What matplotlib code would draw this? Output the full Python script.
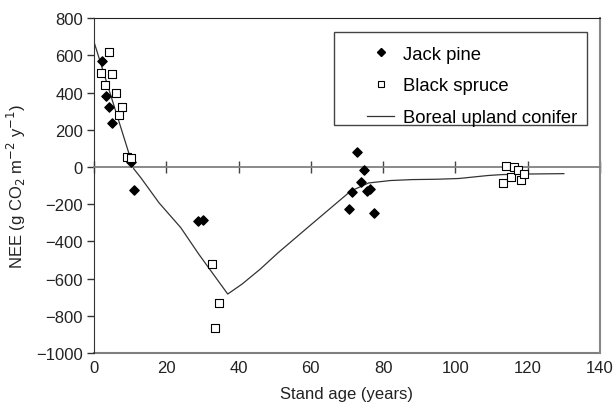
import matplotlib.pyplot as plt
from matplotlib.lines import Line2D
from matplotlib.patches import Rectangle

plt.rcParams['font.family'] = ['Liberation Sans', 'DejaVu Sans']

# jack pine stands
pine_age = [2.1, 3.2, 4.2, 5.1, 10.2, 11.1, 28.7, 30.1, 70.6, 71.5, 72.9, 73.8, 74.7, 75.4, 76.5, 77.5]
pine_nee = [570, 380, 324, 238, 27, -123, -290, -283, -228, -132, 80, -82, -14, -127, -116, -248]

# black spruce stands
spruce_age = [1.8, 3.0, 4.1, 5.0, 6.0, 7.0, 7.8, 9.0, 10.1, 32.6, 33.6, 34.7,
              113.1, 114.1, 115.3, 116.3, 117.4, 118.1, 119.1]
spruce_nee = [505, 442, 620, 498, 400, 278, 321, 54, 48, -519, -863, -729,
              -87, 4, -52, -2, -18, -68, -39]

# boreal upland conifer model curve
model_age = [0, 5, 10, 11, 13, 18, 24, 29, 37, 41, 46, 51, 60, 71, 76, 82, 88, 95, 101, 109, 113, 120, 130]
model_nee = [672, 362, 52, -10, -59, -193, -326, -469, -683, -629, -549, -460, -311, -130, -86,
             -73, -68, -66, -62, -46, -41, -38, -36]

xticks = [0, 20, 40, 60, 80, 100, 120, 140]
yticks = [800, 600, 400, 200, 0, -200, -400, -600, -800, -1000]

fig = plt.figure(figsize=(6.16, 4.06), dpi=100)
ax = fig.add_axes([0.1526, 0.128, 0.8214, 0.825])

ax.plot(model_age, model_nee, color='#333333', lw=0.9, zorder=2)
ax.scatter(pine_age, pine_nee, marker='D', s=22, color='black', zorder=3)
ax.scatter(spruce_age, spruce_nee, marker='s', s=30, facecolor='white',
           edgecolor='black', linewidths=0.8, zorder=3)

ax.set_xlim(0, 140)
ax.set_ylim(-1000, 800)

# x axis drawn through zero, labels sit on a separate axis at the bottom
ax.spines['bottom'].set_position(('data', 0))
ax.spines['bottom'].set_color('#808080')
ax.spines['bottom'].set_linewidth(1.3)
ax.set_xticks(xticks)
ax.tick_params(axis='x', direction='inout', length=9, width=1, color='#444444', labelbottom=False)

sec = ax.secondary_xaxis(0)
sec.set_xticks(xticks)
sec.tick_params(length=0, labelsize=12, pad=5, labelcolor='#222222')
sec.spines['bottom'].set_color('#808080')
sec.spines['bottom'].set_linewidth(1.5)
sec.set_xlabel('Stand age (years)', fontsize=12, color='#222222', labelpad=8)

ax.set_yticks(yticks)
ax.tick_params(axis='y', direction='out', length=5, width=1, color='#333333', labelsize=12,
               labelcolor='#222222', pad=3)
ax.spines['left'].set_color('#333333')
ax.spines['top'].set_color('#222222')
ax.spines['right'].set_color('#888888')
ax.spines['right'].set_linewidth(1.5)
ax.set_ylabel('NEE (g CO$_2$ m$^{-2}$ y$^{-1}$)', fontsize=12, color='#222222', labelpad=6)

# legend box drawn separately so the entries can sit off-centre
ax.add_patch(Rectangle((0.474, 0.681), 0.5, 0.277, transform=ax.transAxes, facecolor='white',
                       edgecolor='#444444', lw=1.0, zorder=4))

handles = [
    Line2D([], [], marker='D', ls='none', color='black', markersize=4.5),
    Line2D([], [], marker='s', ls='none', markerfacecolor='white', markeredgecolor='black',
           markeredgewidth=0.8, markersize=5),
    Line2D([], [], color='#333333', lw=0.9),
]
leg = ax.legend(handles, ['Jack pine', 'Black spruce', 'Boreal upland conifer'],
                loc='upper right', bbox_to_anchor=(0.9545, 0.918), fontsize=13.3,
                frameon=False, labelspacing=0.8, handlelength=1.5, handletextpad=0.45,
                borderpad=0, borderaxespad=0)
leg.set_zorder(5)

fig.savefig('out.png', dpi=100)
